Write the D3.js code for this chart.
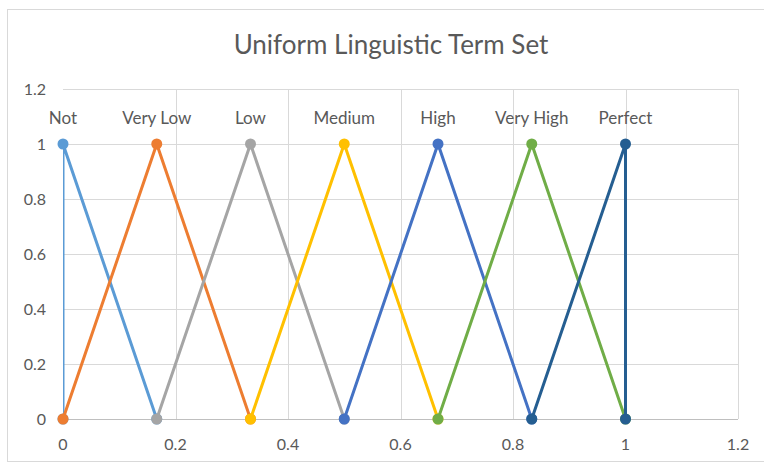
<!DOCTYPE html>
<html lang="en">
<head>
<meta charset="UTF-8">
<title>Uniform Linguistic Term Set</title>
<style>
  body { margin: 0; background: #fff; }
  text { font-family: Lato, "Open Sans", sans-serif; fill: #595959; }
</style>
</head>
<body>
<div id="chart"></div>
<script src="https://cdnjs.cloudflare.com/ajax/libs/d3/7.8.5/d3.min.js"></script>
<script>
// term names and triangular membership points (x positions of left foot, peak, right foot)
const terms = ["Not", "Very Low", "Low", "Medium", "High", "Very High", "Perfect"];
const leftFoot = [0, 0, 1/6, 2/6, 3/6, 4/6, 5/6];
const peak = [0, 1/6, 2/6, 3/6, 4/6, 5/6, 1];
const rightFoot = [1/6, 2/6, 3/6, 4/6, 5/6, 1, 1];
const colors = ["#5B9BD5", "#ED7D31", "#A5A5A5", "#FFC000", "#4472C4", "#70AD47", "#255E91"];
const xTicks = [0, 0.2, 0.4, 0.6, 0.8, 1, 1.2];
const yTicks = [0, 0.2, 0.4, 0.6, 0.8, 1, 1.2];

const width = 764, height = 464;
const margin = { left: 63, right: 26, top: 89, bottom: 45 };

const svg = d3.select("#chart").append("svg")
    .attr("width", width)
    .attr("height", height);

// chart frame
svg.append("rect")
    .attr("x", 7.5).attr("y", 9.5)
    .attr("width", 780).attr("height", 452)
    .attr("fill", "#fff")
    .attr("stroke", "#d9d9d9");

const x = d3.scaleLinear().domain([0, 1.2]).range([margin.left, width - margin.right]);
const y = d3.scaleLinear().domain([0, 1.2]).range([height - margin.bottom, margin.top]);

svg.append("text")
    .attr("x", 391).attr("y", 54)
    .attr("text-anchor", "middle")
    .style("font-size", "26px")
    .text("Uniform Linguistic Term Set");

// gridlines
svg.append("g").selectAll("line.h")
    .data(yTicks.filter(d => d > 0))
    .enter().append("line")
    .attr("x1", x(0)).attr("x2", x(1.2))
    .attr("y1", d => Math.round(y(d)) + 0.5).attr("y2", d => Math.round(y(d)) + 0.5)
    .attr("stroke", "#d9d9d9");

svg.append("g").selectAll("line.v")
    .data(xTicks.filter(d => d > 0))
    .enter().append("line")
    .attr("y1", y(0)).attr("y2", y(1.2))
    .attr("x1", d => Math.round(x(d)) + 0.5).attr("x2", d => Math.round(x(d)) + 0.5)
    .attr("stroke", "#d9d9d9");

// x axis line
svg.append("line")
    .attr("x1", x(0)).attr("x2", x(1.2))
    .attr("y1", Math.round(y(0)) + 0.5).attr("y2", Math.round(y(0)) + 0.5)
    .attr("stroke", "#bfbfbf");

// tick labels
svg.append("g").selectAll("text")
    .data(xTicks)
    .enter().append("text")
    .attr("x", d => x(d))
    .attr("y", y(0) + 31)
    .attr("text-anchor", "middle")
    .style("font-size", "16px")
    .text(d => d3.format("~g")(d));

svg.append("g").selectAll("text")
    .data(yTicks)
    .enter().append("text")
    .attr("x", x(0) - 17)
    .attr("y", d => y(d) + 6)
    .attr("text-anchor", "end")
    .style("font-size", "16px")
    .text(d => d3.format("~g")(d));

// clip to plot area
svg.append("clipPath").attr("id", "plot")
    .append("rect")
    .attr("x", x(0)).attr("y", y(1.2))
    .attr("width", x(1.2) - x(0)).attr("height", y(0) - y(1.2));

const series = terms.map((t, i) => ({
    name: t,
    color: colors[i],
    pts: [[leftFoot[i], 0], [peak[i], 1], [rightFoot[i], 0]]
}));

const line = d3.line().x(d => x(d[0])).y(d => y(d[1]));

const g = svg.append("g");
series.forEach(s => {
    g.append("path")
        .attr("d", line(s.pts))
        .attr("fill", "none")
        .attr("stroke", s.color)
        .attr("stroke-width", 3)
        .attr("clip-path", "url(#plot)");
    g.selectAll(null)
        .data(s.pts)
        .enter().append("circle")
        .attr("cx", d => x(d[0]))
        .attr("cy", d => y(d[1]))
        .attr("r", 5.5)
        .attr("fill", s.color);
});

// term labels above peaks
svg.append("g").selectAll("text")
    .data(series)
    .enter().append("text")
    .attr("x", d => x(d.pts[1][0]))
    .attr("y", y(1) - 20)
    .attr("text-anchor", "middle")
    .style("font-size", "17px")
    .text(d => d.name);
</script>
</body>
</html>
